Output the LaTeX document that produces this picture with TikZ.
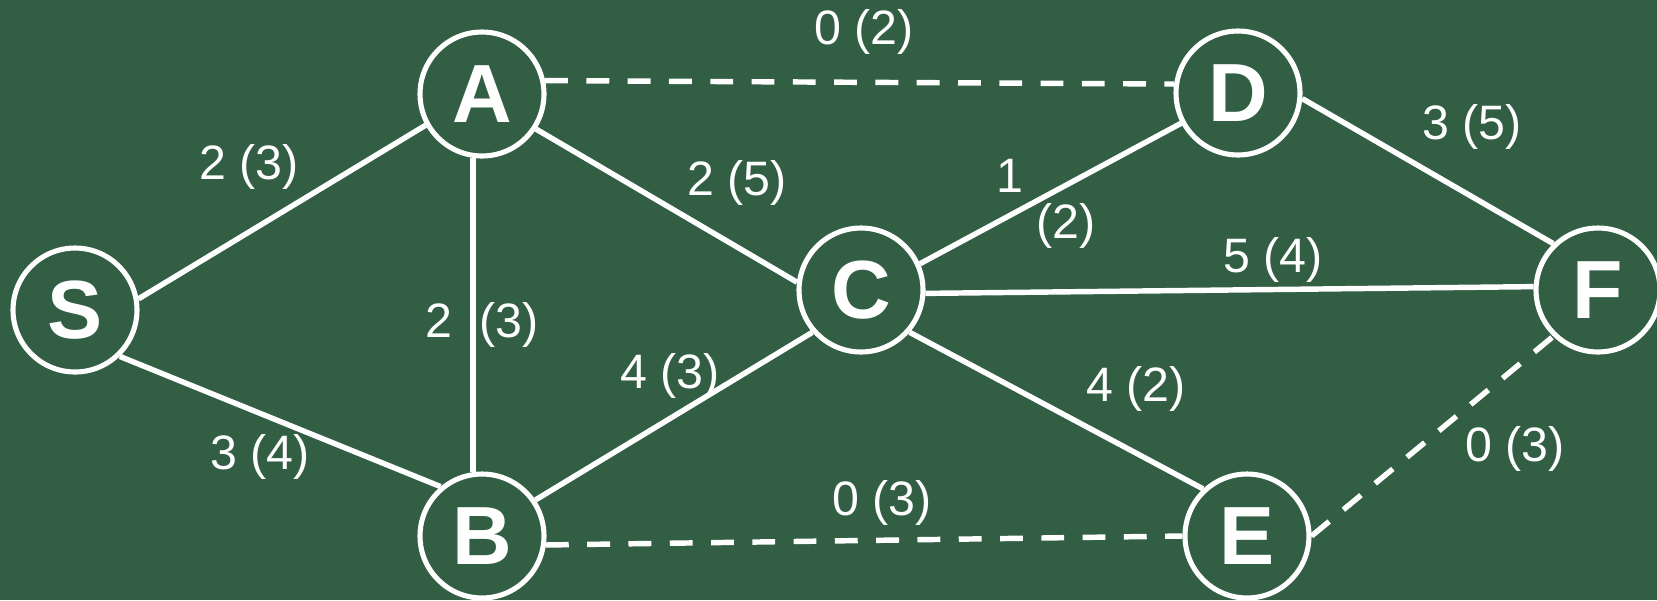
\documentclass[tikz,border=0pt]{standalone}
\usepackage{fontspec}
\setmainfont{Liberation Sans}
\definecolor{board}{RGB}{50,94,68}
\begin{document}
\begin{tikzpicture}[x=0.02cm,y=-0.02cm,
        vert/.style={circle,draw=white,line width=2.9pt,minimum size=2.48cm,inner sep=0pt,text=white,font=\fontsize{47}{47}\selectfont\bfseries},
        edge/.style={white,line width=3.1pt},
        zero/.style={edge,dash pattern=on 13pt off 10.5pt},
        lbl/.style={text=white,inner sep=0pt,font=\fontsize{27.5}{30}\selectfont}]
    \fill [board] (0,0) rectangle (1657,600);
    \useasboundingbox (0,0) rectangle (1657,600);
    % vertices
    \node [vert] (S) at (75,310) {S};
    \node [vert] (A) at (482,94) {A};
    \node [vert] (B) at (482,536) {B};
    \node [vert] (C) at (861,290) {C};
    \node [vert] (D) at (1238,93) {D};
    \node [vert] (E) at (1247,536) {E};
    \node [vert] (F) at (1598,290) {F};
    % edges
    \draw [edge] (S.10) -- (A.209);
    \draw [edge] (S.-46) -- (B.130);
    \draw [edge] (A.262) -- (B.98);
    \draw [edge] (A.-33) -- (C.173);
    \draw [edge] (B.34) -- (C.221);
    \draw [edge] (C.24) -- (D.208);
    \draw [edge] (C.-41) -- (E.133);
    \draw [edge] (C.-3) -- (F.177);
    \draw [edge] (D.-5) -- (F.134);
    \draw [zero] (A.12) -- (D.172);
    \draw [zero] (B.-8) -- (E.180);
    \draw [zero] (E.0) -- (F.226);
    % flows (capacities)
    \node [lbl] (lAD) at (864,32) {0 (2)};
    \node [lbl] (lDF) at (1472,127) {3 (5)};
    \node [lbl] (lSA) at (249,167) {2 (3)};
    \node [lbl] (lAC) at (737,183) {2 (5)};
    \node [lbl] (lCDa) at (1010,176) {1};
    \node [lbl] (lCDb) at (1066,226) {(2)};
    \node [lbl] (lCF) at (1273,260) {5 (4)};
    \node [lbl] (lAB) at (482,325) {2\hspace{0.57em}(3)};
    \node [lbl] (lBC) at (670,376) {4 (3)};
    \node [lbl] (lCE) at (1136,389) {4 (2)};
    \node [lbl] (lSB) at (260,457) {3 (4)};
    \node [lbl] (lBE) at (882,503) {0 (3)};
    \node [lbl] (lEF) at (1515,449) {0 (3)};
\end{tikzpicture}
\end{document}
